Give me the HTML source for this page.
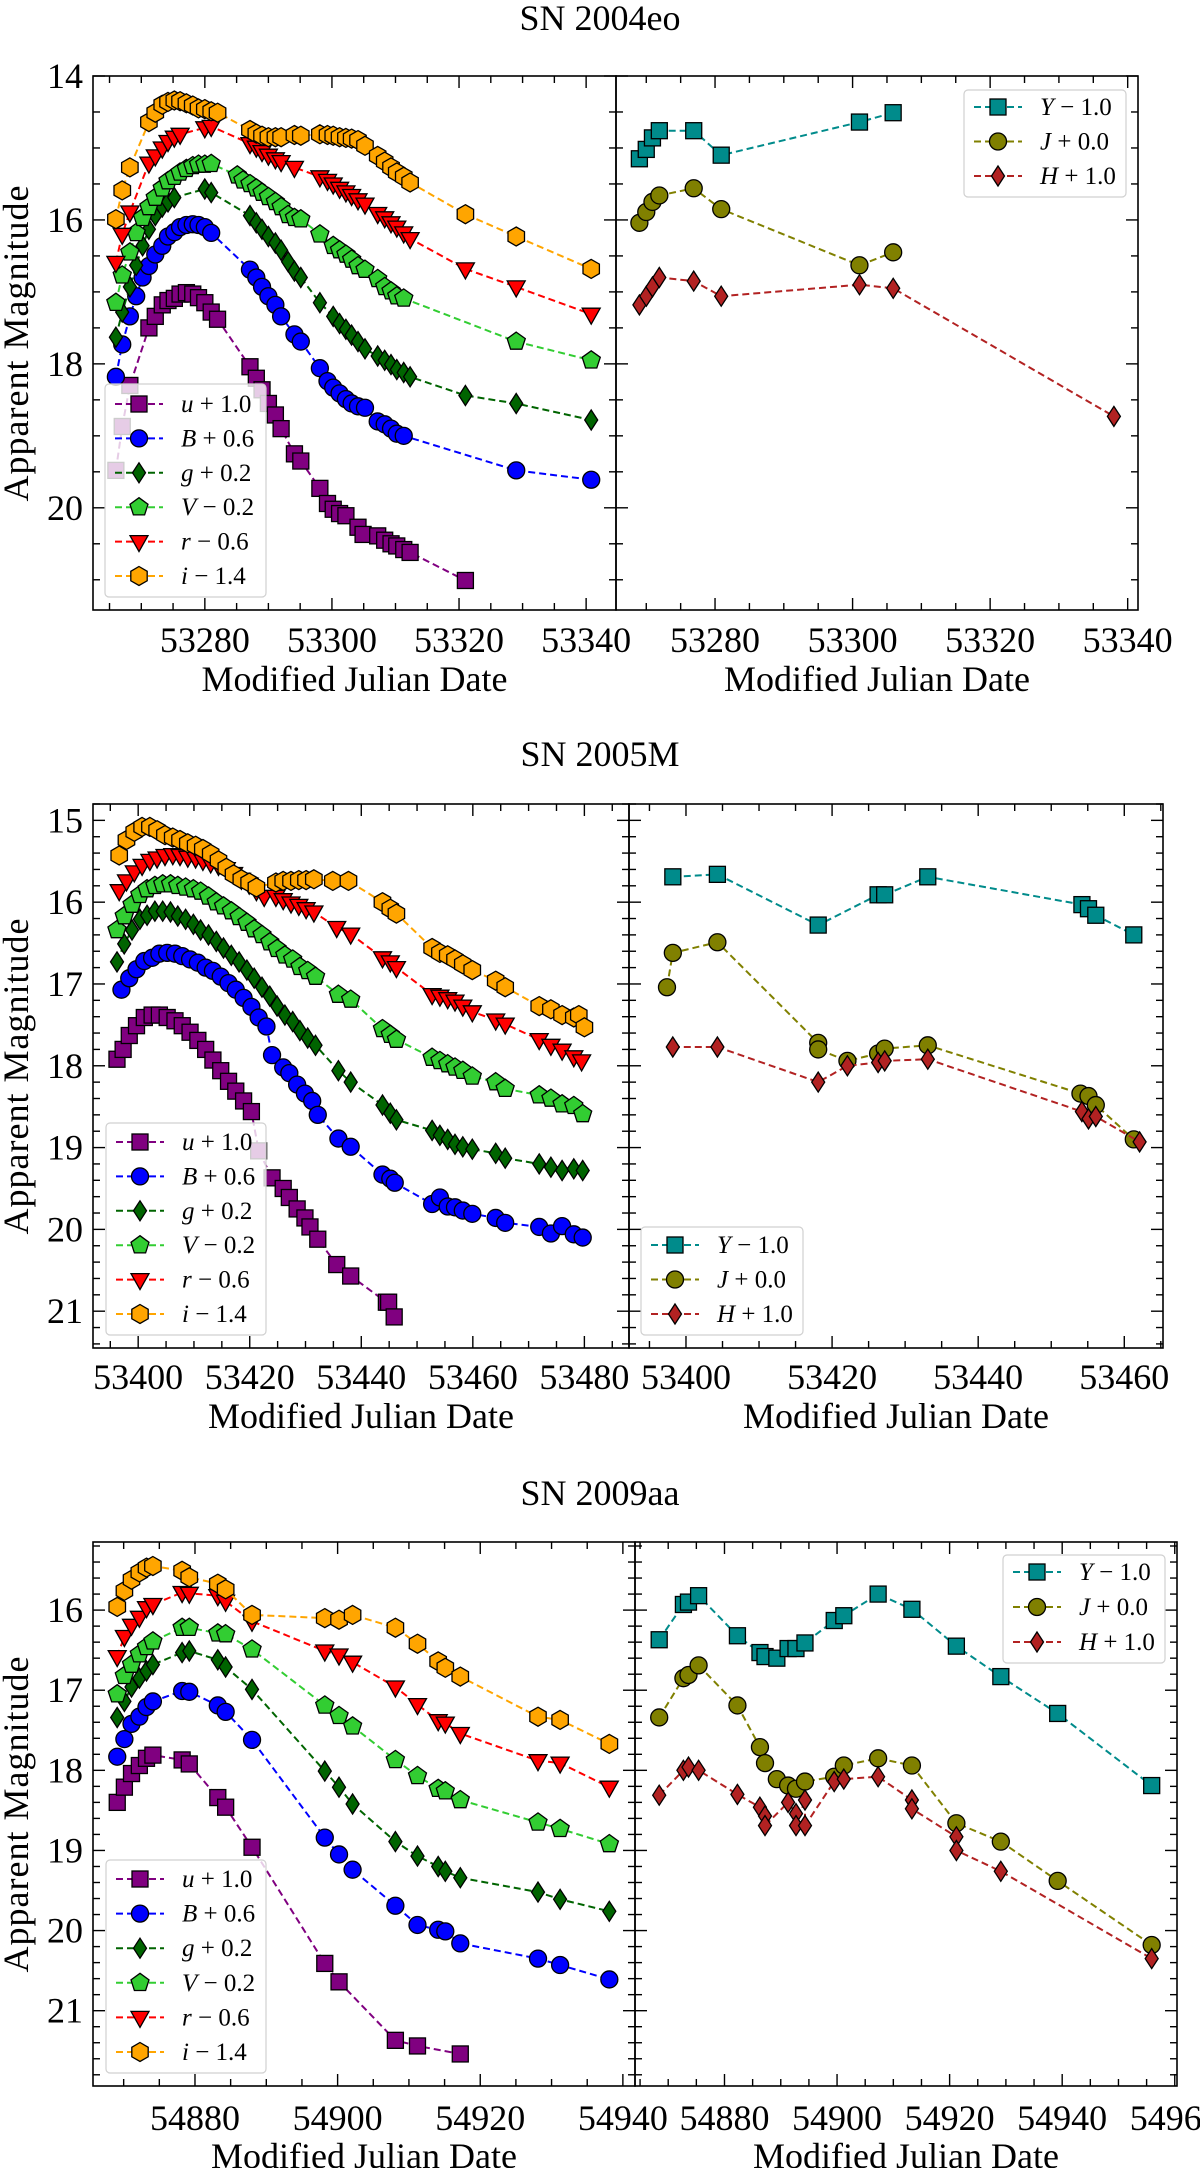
<!DOCTYPE html>
<html><head><meta charset="utf-8">
<style>
html,body{margin:0;padding:0;background:#fff;}
svg{display:block;font-family:"Liberation Serif",serif;}
</style></head>
<body>
<svg id="fig" width="1200" height="2168" viewBox="0 0 1200 2168" xmlns="http://www.w3.org/2000/svg"></svg>
<script>
// ===== SN 2004eo data =====
const p1_t_u=[53266.0,53267.0,53268.2,53271.2,53272.2,53273.3,53274.2,53275.2,53276.1,53277.1,53278.1,53279.0,53280.0,53281.0,53282.0,53287.1,53288.1,53289.0,53290.0,53291.1,53292.0,53294.1,53295.1,53298.1,53299.3,53300.2,53301.2,53302.2,53304.1,53304.9,53307.2,53308.3,53309.3,53310.2,53311.3,53312.3,53321.0];
const p1_m_u=[19.48,18.87,18.30,17.50,17.34,17.18,17.12,17.09,17.03,17.01,17.03,17.08,17.15,17.28,17.38,18.04,18.20,18.36,18.55,18.71,18.90,19.25,19.35,19.73,19.94,20.02,20.08,20.11,20.27,20.37,20.39,20.45,20.50,20.53,20.58,20.62,21.01];
const p1_t_B=[53266.0,53267.0,53268.2,53269.2,53270.2,53271.2,53272.2,53273.3,53274.2,53275.2,53276.1,53277.1,53278.1,53279.0,53280.0,53281.0,53287.1,53288.1,53289.0,53290.0,53291.1,53292.0,53294.1,53295.1,53298.1,53299.3,53300.2,53301.2,53302.2,53303.1,53304.1,53305.2,53307.2,53308.3,53309.3,53310.2,53311.3,53329.0,53340.8];
const p1_m_B=[18.18,17.73,17.34,17.06,16.80,16.64,16.48,16.36,16.23,16.17,16.10,16.07,16.06,16.07,16.10,16.18,16.69,16.80,16.93,17.06,17.18,17.34,17.59,17.69,18.06,18.24,18.33,18.41,18.49,18.55,18.59,18.61,18.80,18.84,18.90,18.97,19.00,19.48,19.61];
const p1_t_g=[53266.0,53267.0,53268.2,53269.2,53270.2,53271.2,53272.2,53273.3,53274.2,53275.2,53280.0,53281.0,53287.1,53288.1,53289.0,53290.0,53291.1,53292.0,53293.1,53294.1,53295.1,53298.1,53300.2,53301.2,53302.2,53303.1,53304.1,53305.2,53307.2,53308.3,53309.3,53310.2,53311.3,53312.3,53321.0,53329.0,53340.8];
const p1_m_g=[17.63,17.28,16.93,16.63,16.36,16.13,15.94,15.82,15.75,15.69,15.57,15.62,15.94,16.04,16.13,16.23,16.32,16.42,16.58,16.71,16.80,17.15,17.34,17.44,17.52,17.60,17.69,17.79,17.89,17.95,18.01,18.08,18.12,18.18,18.44,18.55,18.78];
const p1_t_V=[53266.0,53267.0,53268.2,53269.2,53270.2,53271.2,53272.2,53273.3,53274.2,53275.2,53276.1,53277.1,53278.1,53279.0,53280.0,53281.0,53285.1,53286.0,53287.1,53288.1,53289.0,53290.0,53291.1,53292.0,53293.1,53294.1,53295.1,53298.1,53300.2,53301.2,53302.2,53303.1,53304.1,53305.2,53307.2,53308.3,53309.3,53310.2,53311.3,53329.0,53340.8];
const p1_m_V=[17.15,16.77,16.45,16.18,15.97,15.82,15.69,15.56,15.46,15.40,15.34,15.29,15.25,15.23,15.23,15.22,15.38,15.45,15.50,15.56,15.62,15.68,15.75,15.82,15.93,15.97,15.99,16.20,16.36,16.42,16.48,16.55,16.64,16.69,16.82,16.93,16.99,17.06,17.09,17.69,17.95];
const p1_t_r=[53266.0,53267.0,53268.2,53271.2,53272.2,53273.3,53274.2,53275.2,53276.1,53280.0,53281.0,53287.1,53288.1,53289.0,53290.0,53291.1,53292.0,53294.1,53298.1,53299.3,53300.2,53301.2,53302.2,53303.1,53304.1,53305.2,53307.2,53308.3,53309.3,53310.2,53311.3,53312.3,53321.0,53329.0,53340.8];
const p1_m_r=[16.59,16.20,15.89,15.21,15.11,15.00,14.91,14.85,14.81,14.72,14.70,14.94,14.99,15.05,15.10,15.15,15.19,15.27,15.40,15.45,15.50,15.56,15.61,15.66,15.72,15.78,15.91,15.97,16.04,16.10,16.18,16.26,16.68,16.93,17.31];
const p1_t_i=[53266.0,53267.0,53268.2,53271.2,53272.2,53273.3,53274.2,53275.2,53276.1,53277.1,53278.1,53279.0,53280.0,53281.0,53282.0,53287.1,53288.1,53289.0,53290.0,53291.1,53292.0,53294.1,53295.1,53298.1,53299.3,53300.2,53301.2,53302.2,53303.1,53304.1,53305.2,53307.2,53308.3,53309.3,53310.2,53311.3,53312.3,53321.0,53329.0,53340.8];
const p1_m_i=[15.99,15.59,15.27,14.64,14.51,14.40,14.36,14.34,14.35,14.38,14.41,14.45,14.46,14.49,14.51,14.75,14.80,14.83,14.85,14.85,14.85,14.82,14.83,14.81,14.82,14.83,14.85,14.86,14.87,14.89,14.97,15.11,15.19,15.27,15.34,15.40,15.48,15.92,16.23,16.68];
const p1_t_Y=[53269.0,53270.0,53270.9,53271.9,53276.9,53280.9,53301.0,53305.9];
const p1_m_Y=[15.15,15.02,14.86,14.76,14.76,15.10,14.64,14.51];
const p1_t_J=[53269.0,53270.0,53270.9,53271.9,53276.9,53280.9,53301.0,53305.9];
const p1_m_J=[16.04,15.89,15.75,15.66,15.56,15.85,16.63,16.45];
const p1_t_H=[53269.0,53270.0,53270.9,53271.9,53276.9,53280.9,53301.0,53305.9,53338.0];
const p1_m_H=[17.18,17.06,16.93,16.80,16.85,17.06,16.90,16.95,18.73];
const p1_xticksL=[53280,53300,53320,53340];
const p1_xticksR=[53280,53300,53320,53340];
const p1_yticks=[14,16,18,20];

// ===== SN 2005M data =====
const p2_t_u=[53396.2,53397.3,53398.4,53399.7,53401.1,53402.5,53403.8,53405.2,53406.6,53407.9,53409.3,53410.7,53412.1,53413.4,53414.8,53416.2,53417.5,53418.9,53420.3,53421.6,53424.0,53426.0,53427.1,53428.5,53429.9,53430.8,53432.2,53435.6,53438.1,53444.5,53444.9,53445.9];
const p2_m_u=[17.92,17.80,17.63,17.51,17.41,17.38,17.38,17.41,17.45,17.51,17.59,17.69,17.80,17.93,18.06,18.19,18.31,18.43,18.56,19.04,19.37,19.50,19.61,19.75,19.86,19.97,20.12,20.43,20.57,20.89,20.89,21.07];
const p2_t_B=[53397.0,53398.4,53399.7,53401.1,53402.5,53403.8,53405.2,53406.6,53407.9,53409.3,53410.7,53412.1,53413.4,53414.8,53416.2,53417.5,53418.9,53420.3,53421.6,53423.0,53424.0,53426.0,53427.1,53428.5,53429.9,53431.2,53432.2,53435.9,53438.1,53443.8,53445.2,53446.0,53452.7,53454.1,53455.5,53456.8,53458.2,53459.9,53464.1,53465.8,53471.9,53474.0,53476.0,53478.1,53479.7];
const p2_m_B=[17.07,16.93,16.82,16.72,16.68,16.63,16.62,16.63,16.66,16.70,16.74,16.80,16.84,16.91,16.99,17.07,17.17,17.28,17.41,17.52,17.87,18.02,18.09,18.23,18.34,18.43,18.60,18.89,18.99,19.33,19.38,19.43,19.69,19.61,19.72,19.73,19.77,19.81,19.86,19.92,19.97,20.05,19.96,20.06,20.10];
const p2_t_g=[53396.2,53397.5,53398.9,53400.3,53401.6,53403.0,53404.4,53405.8,53407.1,53408.5,53409.9,53411.2,53412.6,53414.0,53415.3,53416.7,53418.1,53419.5,53420.8,53422.2,53423.6,53424.9,53426.3,53427.7,53429.0,53430.4,53431.8,53435.9,53438.1,53443.8,53445.2,53446.3,53452.7,53454.1,53455.5,53456.8,53458.2,53459.9,53464.1,53465.8,53471.9,53474.0,53476.0,53478.1,53479.7];
const p2_m_g=[16.73,16.51,16.34,16.21,16.16,16.11,16.11,16.12,16.17,16.21,16.27,16.34,16.40,16.48,16.56,16.65,16.73,16.83,16.93,17.04,17.15,17.27,17.38,17.46,17.57,17.66,17.75,18.06,18.20,18.48,18.58,18.66,18.79,18.85,18.90,18.96,18.99,19.02,19.07,19.13,19.20,19.24,19.28,19.26,19.28];
const p2_t_V=[53396.2,53397.5,53398.9,53400.3,53401.6,53403.0,53404.4,53405.8,53407.1,53408.5,53409.9,53411.2,53412.6,53414.0,53415.3,53416.7,53418.1,53419.5,53420.8,53422.2,53423.6,53424.9,53426.3,53427.7,53429.0,53430.4,53431.8,53435.9,53438.1,53443.8,53445.2,53446.3,53452.7,53454.1,53455.5,53456.8,53458.2,53459.9,53464.1,53465.8,53471.9,53474.0,53476.0,53478.1,53479.7];
const p2_m_V=[16.34,16.17,16.03,15.91,15.84,15.80,15.78,15.78,15.80,15.82,15.84,15.87,15.93,16.00,16.05,16.11,16.18,16.25,16.33,16.40,16.49,16.57,16.65,16.70,16.79,16.84,16.91,17.13,17.19,17.55,17.62,17.68,17.90,17.94,17.98,18.02,18.06,18.13,18.20,18.28,18.36,18.40,18.47,18.49,18.59];
const p2_t_r=[53396.6,53397.9,53399.3,53400.7,53402.1,53403.4,53404.8,53406.2,53407.5,53408.9,53410.3,53411.6,53413.0,53414.4,53415.8,53417.1,53418.5,53419.9,53421.2,53422.6,53424.7,53426.0,53427.4,53428.8,53430.1,53431.5,53435.6,53438.1,53443.8,53445.2,53446.3,53452.7,53454.1,53455.5,53456.8,53458.2,53459.9,53464.1,53465.8,53471.9,53474.0,53476.0,53478.1,53479.5];
const p2_m_r=[15.86,15.74,15.63,15.55,15.49,15.46,15.43,15.42,15.43,15.45,15.46,15.49,15.52,15.55,15.59,15.65,15.72,15.78,15.86,15.93,15.93,15.97,16.01,16.04,16.08,16.12,16.31,16.39,16.68,16.73,16.80,17.13,17.15,17.18,17.21,17.27,17.34,17.44,17.49,17.68,17.75,17.81,17.89,17.94];
const p2_t_i=[53396.6,53397.9,53399.3,53400.7,53402.1,53403.4,53404.8,53406.2,53407.5,53408.9,53410.3,53411.6,53413.0,53414.4,53415.8,53417.1,53418.5,53419.9,53421.2,53424.7,53426.0,53427.4,53428.8,53430.1,53431.5,53434.9,53437.7,53443.8,53445.2,53446.3,53452.7,53454.1,53455.5,53456.8,53458.2,53459.9,53464.1,53465.8,53471.9,53474.0,53476.0,53478.1,53479.0,53480.0];
const p2_m_i=[15.43,15.24,15.14,15.08,15.08,15.12,15.18,15.21,15.24,15.28,15.31,15.35,15.41,15.49,15.58,15.66,15.72,15.76,15.82,15.76,15.74,15.74,15.73,15.73,15.72,15.74,15.74,16.00,16.08,16.14,16.56,16.62,16.65,16.70,16.76,16.83,16.96,17.04,17.27,17.31,17.38,17.41,17.38,17.53];
const p2_t_Y=[53398.2,53404.3,53418.1,53426.3,53427.2,53433.1,53454.2,53455.1,53456.1,53461.3];
const p2_m_Y=[15.69,15.66,16.28,15.91,15.91,15.69,16.03,16.08,16.16,16.40];
const p2_t_J=[53397.4,53398.2,53404.3,53418.1,53418.1,53422.1,53426.3,53427.2,53433.1,53454.0,53455.1,53456.1,53461.3];
const p2_m_J=[17.04,16.62,16.49,17.72,17.80,17.94,17.85,17.79,17.75,18.34,18.37,18.48,18.90];
const p2_t_H=[53398.2,53404.3,53418.1,53422.1,53426.3,53427.2,53433.1,53454.2,53455.1,53456.1,53462.1];
const p2_m_H=[17.77,17.77,18.20,18.00,17.96,17.94,17.92,18.56,18.65,18.62,18.93];
const p2_xticksL=[53400,53420,53440,53460,53480];
const p2_xticksR=[53400,53420,53440,53460];
const p2_yticks=[15,16,17,18,19,20,21];

// ===== SN 2009aa data =====
const p3_t_ugriz=[54869.1,54870.1,54871.1,54872.2,54873.2,54874.1,54878.2,54879.2,54883.2,54884.3,54888.0,54898.2,54900.2,54902.1,54908.1,54911.2,54914.1,54915.1,54917.2,54928.1,54931.2,54938.1];
const p3_t_u=[54869.1,54870.1,54871.1,54872.2,54873.2,54874.1,54878.2,54879.2,54883.2,54884.3,54888.0,54898.2,54900.2,54908.1,54911.2,54917.2];
const p3_m_u=[18.40,18.21,18.04,17.94,17.85,17.81,17.87,17.92,18.34,18.46,18.96,20.41,20.64,21.37,21.44,21.54];
const p3_m_B=[17.83,17.61,17.42,17.33,17.21,17.14,17.01,17.02,17.19,17.27,17.62,18.84,19.05,19.24,19.69,19.93,19.99,20.01,20.16,20.35,20.43,20.61];
const p3_m_g=[17.34,17.14,16.96,16.85,16.76,16.68,16.53,16.51,16.62,16.71,16.99,18.01,18.21,18.42,18.89,19.07,19.20,19.26,19.34,19.52,19.61,19.76];
const p3_m_V=[17.05,16.82,16.68,16.55,16.46,16.39,16.22,16.22,16.29,16.30,16.49,17.19,17.32,17.45,17.87,18.07,18.23,18.26,18.37,18.65,18.73,18.92];
const p3_m_r=[16.58,16.33,16.19,16.09,15.97,15.93,15.78,15.79,15.82,15.89,16.14,16.51,16.56,16.65,16.96,17.18,17.38,17.41,17.54,17.88,17.91,18.21];
const p3_m_i=[15.96,15.76,15.62,15.53,15.47,15.45,15.51,15.59,15.67,15.74,16.06,16.10,16.12,16.06,16.22,16.42,16.64,16.72,16.83,17.33,17.37,17.67];
const p3_t_Y=[54868.4,54872.7,54873.6,54875.4,54882.3,54886.3,54887.2,54889.3,54891.3,54892.7,54894.3,54899.5,54901.2,54907.3,54913.3,54921.2,54929.1,54939.2,54955.9];
const p3_m_Y=[16.37,15.93,15.90,15.82,16.32,16.53,16.58,16.60,16.48,16.48,16.41,16.13,16.07,15.80,15.99,16.45,16.83,17.29,18.19];
const p3_t_J=[54868.4,54872.7,54873.6,54875.4,54882.3,54886.3,54887.2,54889.3,54891.3,54892.7,54894.3,54899.5,54901.2,54907.3,54913.3,54921.2,54929.1,54939.2,54955.9];
const p3_m_J=[17.34,16.85,16.81,16.69,17.19,17.71,17.91,18.11,18.19,18.23,18.14,18.08,17.94,17.85,17.94,18.66,18.89,19.38,20.18];
const p3_t_H=[54868.4,54872.7,54873.6,54875.4,54882.3,54886.3,54887.2,54887.2,54891.3,54892.7,54892.7,54894.3,54894.3,54899.5,54901.2,54907.3,54913.3,54913.3,54921.2,54921.2,54929.1,54955.9];
const p3_m_H=[18.31,18.00,17.96,18.00,18.30,18.46,18.57,18.69,18.40,18.54,18.69,18.37,18.69,18.14,18.11,18.08,18.37,18.48,18.83,19.00,19.26,20.35];
const p3_xticksL=[54880,54900,54920,54940];
const p3_xticksR=[54880,54900,54920,54940,54960];
const p3_yticks=[16,17,18,19,20,21];

const NS="http://www.w3.org/2000/svg";
const fig=document.getElementById('fig');
function mk(tag,attrs,parent){const e=document.createElementNS(NS,tag);for(const k in attrs)e.setAttribute(k,attrs[k]);(parent||fig).appendChild(e);return e;}

const STY={
 u:{c:'#800080',s:'square',lab:['u',' + 1.0']},
 B:{c:'#0000ff',s:'circle',lab:['B',' + 0.6']},
 g:{c:'#006400',s:'diamond',lab:['g',' + 0.2']},
 V:{c:'#32cd32',s:'pentagon',lab:['V',' − 0.2']},
 r:{c:'#ff0000',s:'tri',lab:['r',' − 0.6']},
 i:{c:'#ffa500',s:'hex',lab:['i',' − 1.4']},
 Y:{c:'#008b8b',s:'square',lab:['Y',' − 1.0']},
 J:{c:'#808000',s:'circle',lab:['J',' + 0.0']},
 H:{c:'#b22222',s:'diamond',lab:['H',' + 1.0']}
};

function marker(shape,x,y,col,parent){
  const st={fill:col,stroke:'#000','stroke-width':1.3};
  let e;
  if(shape==='square'){e=mk('rect',Object.assign({x:x-8,y:y-8,width:16,height:16},st),parent);}
  else if(shape==='circle'){e=mk('circle',Object.assign({cx:x,cy:y,r:8.5},st),parent);}
  else {
    let pts=[];
    if(shape==='diamond')pts=[[0,-10],[6.5,0],[0,10],[-6.5,0]];
    else if(shape==='tri')pts=[[-9,-6],[9,-6],[0,10]];
    else if(shape==='pentagon'){for(let k=0;k<5;k++){const a=-Math.PI/2+k*2*Math.PI/5;pts.push([9.5*Math.cos(a),9.5*Math.sin(a)]);}}
    else if(shape==='hex'){for(let k=0;k<6;k++){const a=-Math.PI/2+k*Math.PI/3;pts.push([9.5*Math.cos(a),9.5*Math.sin(a)]);}}
    e=mk('polygon',Object.assign({points:pts.map(p=>(x+p[0]).toFixed(1)+','+(y+p[1]).toFixed(1)).join(' ')},st),parent);
  }
  return e;
}

let clipId=0;
function axes(o){
  // o: x0,x1 (px), y0,y1 (px), xd:[a,b], yd:[a,b], xticks, xminor, yticks, yminor, ylabels(bool)
  const sx=v=>o.x0+(v-o.xd[0])/(o.xd[1]-o.xd[0])*(o.x1-o.x0);
  const sy=v=>o.y0+(v-o.yd[0])/(o.yd[1]-o.yd[0])*(o.y1-o.y0);
  const g=mk('g',{});
  
  
  const id='clip'+(clipId++);
  const cp=mk('clipPath',{id:id},g);
  mk('rect',{x:o.x0,y:o.y0,width:o.x1-o.x0,height:o.y1-o.y0},cp);
  const plot=mk('g',{'clip-path':'url(#'+id+')'},g);
  return {sx,sy,g,plot,o};
}
function drawFrame(A){
  const o=A.o,g=A.g,sx=A.sx,sy=A.sy;
  const tk=mk('g',{stroke:'#000','stroke-width':1.4},g);
  
  
  // x minor
  for(let v=Math.ceil(o.xd[0]/o.xminor)*o.xminor;v<=o.xd[1];v+=o.xminor){
    const X=sx(v);const major=o.xticks.indexOf(Math.round(v))>=0;const L=major?12:7;
    mk('line',{x1:X,y1:o.y1,x2:X,y2:o.y1-L},tk);mk('line',{x1:X,y1:o.y0,x2:X,y2:o.y0+L},tk);
  }
  for(let k=Math.ceil((o.yd[0]-1e-6)/o.yminor);k*o.yminor<=o.yd[1]+1e-6;k++){
    const v=k*o.yminor;const Y=sy(v);const major=o.yticks.some(t=>Math.abs(t-v)<1e-6);const L=major?12:7;
    mk('line',{x1:o.x0,y1:Y,x2:o.x0+L,y2:Y},tk);mk('line',{x1:o.x1,y1:Y,x2:o.x1-L,y2:Y},tk);
  }
  const fr=mk('rect',{x:o.x0,y:o.y0,width:o.x1-o.x0,height:o.y1-o.y0,fill:'none',stroke:'#000','stroke-width':1.6},g);
  
  
  o.xticks.forEach(v=>{
    const t=mk('text',{x:sx(v),y:o.tickY,'font-size':36,'text-anchor':'middle'},g);
    t.textContent=v;
    
    
  });
  if(o.ylabels){
    o.yticks.forEach(v=>{
      const t=mk('text',{x:o.x0-10,y:sy(v)+12,'font-size':36,'text-anchor':'end'},g);
      t.textContent=v;
      
      
    });
  }
  const xl=mk('text',{x:(o.x0+o.x1)/2,y:o.xlabY,'font-size':36,'text-anchor':'middle'},g);
  xl.textContent='Modified Julian Date';
  
  
}
function series(A,key,ts,ms){
  const st=STY[key];
  const sg=mk('g',{},A.plot);
  
  
  const n=Math.min(ts.length,ms.length);
  let d='';
  for(let k=0;k<n;k++){d+=(k?'L':'M')+A.sx(ts[k]).toFixed(1)+','+A.sy(ms[k]).toFixed(1);}
  const ln=mk('path',{d:d,fill:'none',stroke:st.c,'stroke-width':2,'stroke-dasharray':'7,4'},sg);
  
  
  for(let k=0;k<n;k++){
    const m=marker(st.s,A.sx(ts[k]),A.sy(ms[k]),st.c,sg);
    
    
  }
}
function legend(x,y,w,h,keys,firstY,step){
  const lg=mk('g',{});
  
  
  mk('rect',{x:x,y:y,width:w,height:h,rx:4,fill:'#fff','fill-opacity':0.8,stroke:'#d0d0d0','stroke-width':1.2},lg);
  keys.forEach((k,j)=>{
    const st=STY[k];const cy=firstY+j*step;
    const e=mk('g',{},lg);
    
    
    mk('line',{x1:x+10,y1:cy,x2:x+58,y2:cy,stroke:st.c,'stroke-width':2,'stroke-dasharray':'7,4'},e);
    marker(st.s,x+34,cy,st.c,e);
    const t=mk('text',{x:x+76,y:cy+8,'font-size':25},e);
    const a=mk('tspan',{'font-style':'italic'},t);a.textContent=st.lab[0];
    const b=mk('tspan',{},t);b.textContent=st.lab[1];
  });
}
function title(txt,y){
  const t=mk('text',{x:600,y:y,'font-size':36,'text-anchor':'middle'});
  t.textContent=txt;
  
  
}
function ylabel(yc){
  const t=mk('text',{x:0,y:0,'font-size':36,'text-anchor':'middle','letter-spacing':'1',transform:'translate(28,'+yc+') rotate(-90)'});
  t.textContent='Apparent Magnitude';
  
  
}

// ---------- Panel 1 ----------
title('SN 2004eo',30);
ylabel(343);
{
 const L=axes({name:'sn2004eo-optical',x0:93,x1:616,y0:76,y1:610,xd:[53262.4,53344.7],yd:[14,21.42],xticks:p1_xticksL,xminor:5,yticks:p1_yticks,yminor:0.5,ylabels:true,tickY:652,xlabY:691});
 series(L,'u',p1_t_u,p1_m_u);series(L,'B',p1_t_B,p1_m_B);series(L,'g',p1_t_g,p1_m_g);
 series(L,'V',p1_t_V,p1_m_V);series(L,'r',p1_t_r,p1_m_r);series(L,'i',p1_t_i,p1_m_i);
 drawFrame(L);
 const R=axes({name:'sn2004eo-nir',x0:616,x1:1138,y0:76,y1:610,xd:[53265.6,53341.5],yd:[14,21.42],xticks:p1_xticksR,xminor:5,yticks:p1_yticks,yminor:0.5,ylabels:false,tickY:652,xlabY:691});
 series(R,'Y',p1_t_Y,p1_m_Y);series(R,'J',p1_t_J,p1_m_J);series(R,'H',p1_t_H,p1_m_H);
 drawFrame(R);
 legend(105,384,161,213,['u','B','g','V','r','i'],404,34.4);
 legend(964,90,162,107,['Y','J','H'],107,34.5);
}
// ---------- Panel 2 ----------
title('SN 2005M',766);
ylabel(1076);
{
 const L=axes({name:'sn2005m-optical',x0:93,x1:629,y0:804,y1:1348,xd:[53391.9,53488],yd:[14.80,21.45],xticks:p2_xticksL,xminor:5,yticks:p2_yticks,yminor:0.2,ylabels:true,tickY:1389,xlabY:1428});
 series(L,'u',p2_t_u,p2_m_u);series(L,'B',p2_t_B,p2_m_B);series(L,'g',p2_t_g,p2_m_g);
 series(L,'V',p2_t_V,p2_m_V);series(L,'r',p2_t_r,p2_m_r);series(L,'i',p2_t_i,p2_m_i);
 drawFrame(L);
 const R=axes({name:'sn2005m-nir',x0:629,x1:1163,y0:804,y1:1348,xd:[53392.2,53465.3],yd:[14.80,21.45],xticks:p2_xticksR,xminor:5,yticks:p2_yticks,yminor:0.2,ylabels:false,tickY:1389,xlabY:1428});
 series(R,'Y',p2_t_Y,p2_m_Y);series(R,'J',p2_t_J,p2_m_J);series(R,'H',p2_t_H,p2_m_H);
 drawFrame(R);
 legend(106,1123,160,212,['u','B','g','V','r','i'],1142,34.4);
 legend(641,1227,162,108,['Y','J','H'],1245,34.5);
}
// ---------- Panel 3 ----------
title('SN 2009aa',1505);
ylabel(1814);
{
 const L=axes({name:'sn2009aa-optical',x0:93,x1:635,y0:1542,y1:2086,xd:[54865.7,54941.7],yd:[15.15,21.94],xticks:p3_xticksL,xminor:5,yticks:p3_yticks,yminor:0.2,ylabels:true,tickY:2130,xlabY:2168});
 series(L,'u',p3_t_u,p3_m_u);series(L,'B',p3_t_ugriz,p3_m_B);series(L,'g',p3_t_ugriz,p3_m_g);
 series(L,'V',p3_t_ugriz,p3_m_V);series(L,'r',p3_t_ugriz,p3_m_r);series(L,'i',p3_t_ugriz,p3_m_i);
 drawFrame(L);
 const R=axes({name:'sn2009aa-nir',x0:635,x1:1177,y0:1542,y1:2086,xd:[54864.1,54960.4],yd:[15.15,21.94],xticks:p3_xticksR,xminor:5,yticks:p3_yticks,yminor:0.2,ylabels:false,tickY:2130,xlabY:2168});
 series(R,'Y',p3_t_Y,p3_m_Y);series(R,'J',p3_t_J,p3_m_J);series(R,'H',p3_t_H,p3_m_H);
 drawFrame(R);
 legend(106,1860,160,213,['u','B','g','V','r','i'],1879,34.6);
 legend(1003,1555,162,108,['Y','J','H'],1572,35);
}
</script>
</body></html>
